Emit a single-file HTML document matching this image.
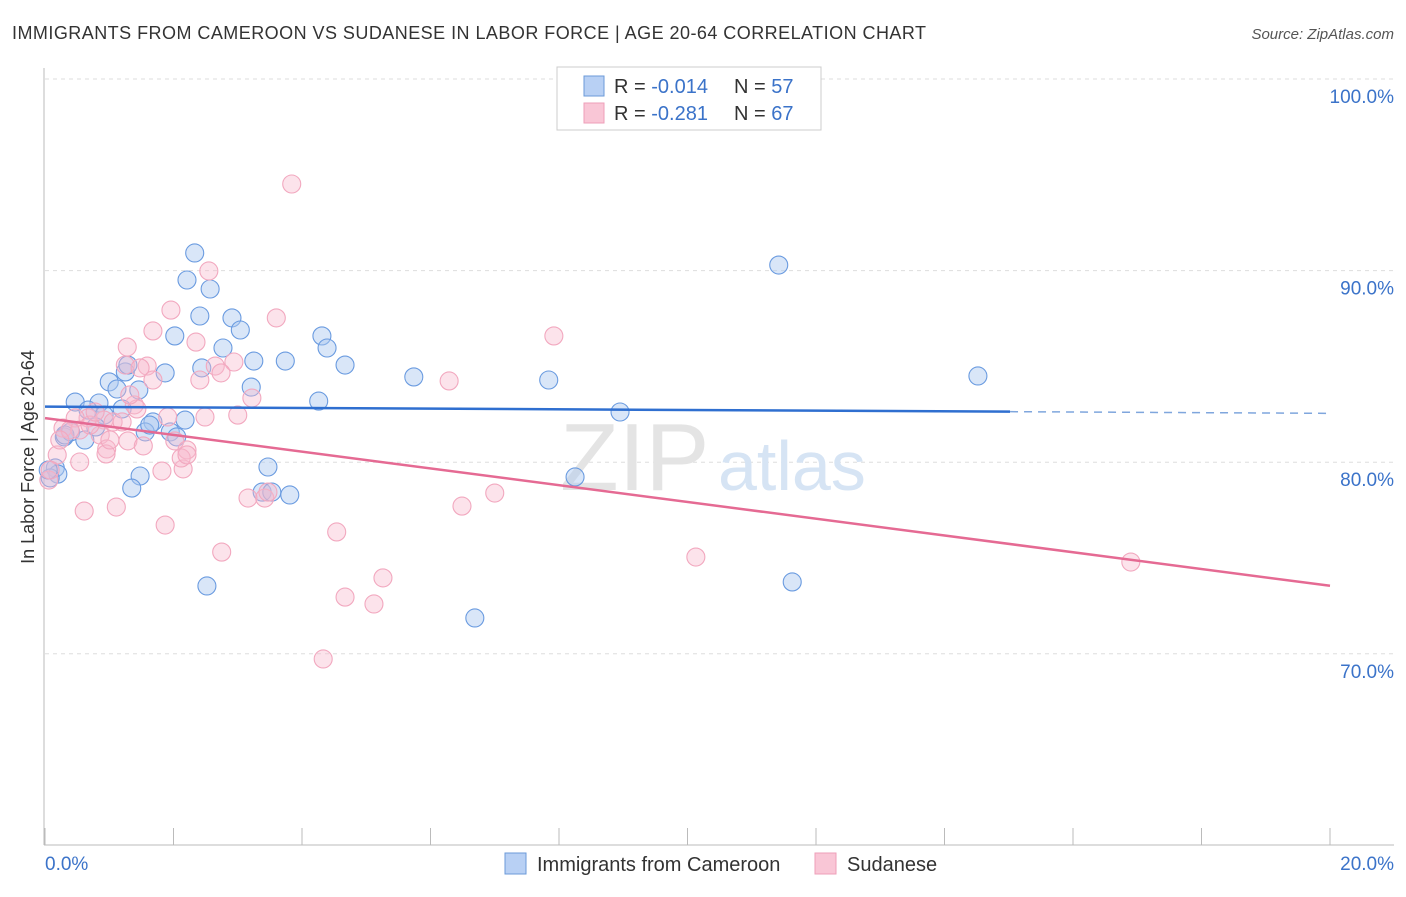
<!DOCTYPE html>
<html><head><meta charset="utf-8"><style>
body{margin:0;background:#fff;font-family:"Liberation Sans",sans-serif}
svg text{font-family:"Liberation Sans",sans-serif}
</style></head><body>
<svg id="chart" width="1406" height="892">
<text x="12" y="39" font-size="18" fill="#333" textLength="914" lengthAdjust="spacing">IMMIGRANTS FROM CAMEROON VS SUDANESE IN LABOR FORCE | AGE 20-64 CORRELATION CHART</text>
<text x="1394" y="39" font-size="15" fill="#555" font-style="italic" text-anchor="end">Source: ZipAtlas.com</text>
<g id="grid"></g>
<text x="560" y="490" font-size="96" fill="#e4e4e4" font-family="Liberation Serif">ZIP</text>
<text x="718" y="490" font-size="70" fill="#d6e4f4">atlas</text>
<line x1="44" y1="68" x2="44" y2="845" stroke="#bbb"/>
<line x1="44" y1="845" x2="1394" y2="845" stroke="#bbb"/>
<text transform="translate(34,457) rotate(-90)" font-size="18" fill="#333" text-anchor="middle">In Labor Force | Age 20-64</text>
<text x="45" y="870" font-size="19" fill="#3b73c9">0.0%</text>
<text x="1394" y="870" font-size="19" fill="#3b73c9" text-anchor="end">20.0%</text>
<g id="marks"></g>
<g>
<rect x="557" y="67" width="264" height="63" fill="#fff" stroke="#ccc"/>
<rect x="584" y="76" width="20" height="20" fill="#b8d0f4" stroke="#6b9ad8"/>
<rect x="584" y="103" width="20" height="20" fill="#f9c6d6" stroke="#ee9fb8"/>
<text x="614" y="93" font-size="20" fill="#333">R = <tspan fill="#3b73c9">-0.014</tspan><tspan x="734">N = </tspan><tspan fill="#3b73c9">57</tspan></text>
<text x="614" y="120" font-size="20" fill="#333">R = <tspan fill="#3b73c9"> -0.281</tspan><tspan x="734">N = </tspan><tspan fill="#3b73c9">67</tspan></text>
</g>
<g>
<rect x="505" y="853" width="21" height="21" fill="#b8d0f4" stroke="#6b9ad8"/>
<text x="537" y="871" font-size="20" fill="#333">Immigrants from Cameroon</text>
<rect x="815" y="853" width="21" height="21" fill="#f9c6d6" stroke="#ee9fb8"/>
<text x="847" y="871" font-size="20" fill="#333">Sudanese</text>
</g>
</svg>
<script>
const yTicks=[100,90,80,70];
const yTickLabels=["100.0%","90.0%","80.0%","70.0%"];
const xTicks=[0,2,4,6,8,10,12,14,16,18,20];
const bluePx=[[195,253],[187,280],[210,289],[200,316],[232,318],[240,330],[175,336],[223,348],[322,336],[327,348],[254,361],[285,361],[345,365],[202,368],[165,373],[109,382],[125,372],[117,389],[139,390],[251,387],[414,377],[549,380],[779,265],[978,376],[75,402],[99,403],[88,410],[122,409],[104,415],[319,401],[620,412],[153,422],[145,432],[170,432],[177,437],[64,437],[71,432],[85,440],[96,427],[268,467],[140,476],[132,488],[262,492],[272,492],[290,495],[575,477],[207,586],[475,618],[792,582],[55,468],[58,474],[50,478],[48,470],[65,435],[185,420],[128,365],[150,425]];
const pinkPx=[[292,184],[209,271],[171,310],[276,318],[196,342],[153,331],[127,347],[554,336],[125,365],[147,366],[140,368],[234,362],[215,366],[221,373],[153,380],[252,398],[449,381],[134,405],[168,417],[205,417],[238,415],[137,409],[104,420],[88,418],[75,418],[63,428],[80,430],[113,422],[122,422],[100,435],[128,441],[143,446],[175,441],[187,450],[107,449],[106,454],[162,471],[183,469],[181,458],[80,462],[57,455],[49,480],[50,470],[84,511],[116,507],[165,525],[248,498],[265,498],[268,492],[337,532],[462,506],[495,493],[696,557],[222,552],[383,578],[345,597],[374,604],[323,659],[1131,562],[70,430],[90,425],[187,455],[60,440],[95,412],[130,395],[110,440],[200,380]];
const pxToX=p=>(p-45)/64.25, pxToY=p=>100-(p-79)/19.16;
const blueX=bluePx.map(p=>+pxToX(p[0]).toFixed(2)), blueY=bluePx.map(p=>+pxToY(p[1]).toFixed(2));
const pinkX=pinkPx.map(p=>+pxToX(p[0]).toFixed(2)), pinkY=pinkPx.map(p=>+pxToY(p[1]).toFixed(2));
const blueTrend=[82.9,82.55]; const pinkTrend=[82.3,73.55];
const X=v=>45+v*64.25, Y=v=>79+(100-v)*19.16;
const ns="http://www.w3.org/2000/svg";
const grid=document.getElementById('grid'), marks=document.getElementById('marks');
function mk(tag,attrs,parent){const e=document.createElementNS(ns,tag);for(const k in attrs)e.setAttribute(k,attrs[k]);parent.appendChild(e);return e;}
yTicks.forEach((t,i)=>{
 const l=mk('line',{x1:45,x2:1394,y1:Y(t),y2:Y(t),stroke:'#ddd','stroke-dasharray':'4,4'},grid);
 
 
 const tx=mk('text',{x:1394,y:Y(t)+24,'font-size':19,fill:'#3b73c9','text-anchor':'end'},grid);
 tx.textContent=yTickLabels[i];
 
 
});
xTicks.forEach(t=>{
 const l=mk('line',{x1:X(t),x2:X(t),y1:828,y2:845,stroke:'#bbb'},grid);
 
 
});
blueX.forEach((x,i)=>{
 const c=mk('circle',{cx:X(x),cy:Y(blueY[i]),r:9,fill:'rgba(170,200,240,0.45)',stroke:'#6a9be0','stroke-width':1.1},marks);
 
 
});
pinkX.forEach((x,i)=>{
 const c=mk('circle',{cx:X(x),cy:Y(pinkY[i]),r:9,fill:'rgba(248,185,205,0.4)',stroke:'#f2a8bf','stroke-width':1.1},marks);
 
 
});
const bx=15.02, bmid=blueTrend[0]+(blueTrend[1]-blueTrend[0])*bx/20;
let l=mk('line',{x1:X(0),y1:Y(blueTrend[0]),x2:X(bx),y2:Y(bmid),stroke:'#2f6fd0','stroke-width':2.5},marks);


l=mk('line',{x1:X(bx),y1:Y(bmid),x2:X(20),y2:Y(blueTrend[1]),stroke:'#7fa6dd','stroke-width':1.5,'stroke-dasharray':'8,6'},marks);


l=mk('line',{x1:X(0),y1:Y(pinkTrend[0]),x2:X(20),y2:Y(pinkTrend[1]),stroke:'#e56a93','stroke-width':2.5},marks);


</script>
</body></html>
